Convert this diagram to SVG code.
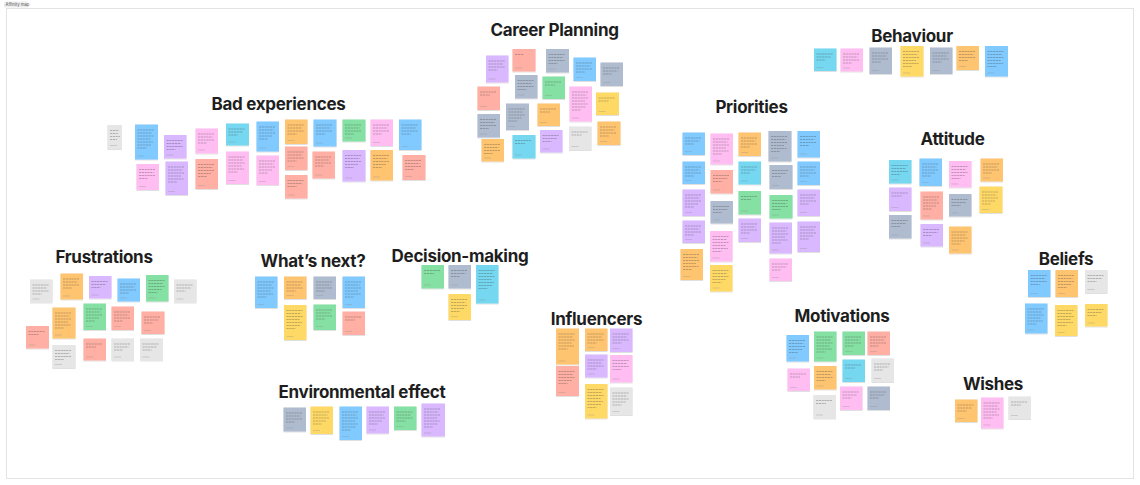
<svg xmlns="http://www.w3.org/2000/svg" xmlns:xlink="http://www.w3.org/1999/xlink" width="1140" height="485" viewBox="0 0 1140 485">
<style>
.t{font-family:Inter,"Liberation Sans",sans-serif;font-weight:700;font-size:17px;fill:#1e1e1e;text-anchor:middle;letter-spacing:-0.3px}
.s{filter:url(#sh)}
.gray{fill:#e6e6e6}.orange{fill:#ffc470}.green{fill:#85e0a3}.blue{fill:#80caff}.purple{fill:#d9b8ff}
.pink{fill:#ffbdf2}.salmon{fill:#ffafa3}.yellow{fill:#ffd966}.cyan{fill:#75d7f0}.slate{fill:#afbccf}
.ln{stroke:#3a3a3a;stroke-width:0.7;stroke-opacity:0.45;fill:none;stroke-dasharray:2.2 0.6}
.au{stroke:#8a8a8a;stroke-width:0.6;stroke-opacity:0.5;fill:none}
</style>
<defs>
<filter id="sh" x="-20%" y="-20%" width="140%" height="140%"><feDropShadow dx="0" dy="0.6" stdDeviation="0.5" flood-color="#000" flood-opacity="0.2"/></filter>
<path id="L1" class="ln" d="M2.5 5.5h9"/>
<path id="L2" class="ln" d="M2.5 5.5h16M2.5 8.5h10"/>
<path id="L3" class="ln" d="M2.5 5.5h16M2.5 8.5h14.5M2.5 11.5h9"/>
<path id="L4" class="ln" d="M2.5 5.5h16M2.5 8.5h14.5M2.5 11.5h16M2.5 14.5h9"/>
<path id="L5" class="ln" d="M2.5 5.5h16M2.5 8.5h14.5M2.5 11.5h16M2.5 14.5h13M2.5 17.5h9"/>
<path id="L6" class="ln" d="M2.5 5.5h16M2.5 8.5h14.5M2.5 11.5h16M2.5 14.5h13M2.5 17.5h15.5M2.5 20.5h9"/>
<path id="L7" class="ln" d="M2.5 5.5h16M2.5 8.5h14.5M2.5 11.5h16M2.5 14.5h13M2.5 17.5h15.5M2.5 20.5h14M2.5 23.5h9"/>
<path id="L8" class="ln" d="M2.5 5.5h16M2.5 8.5h14.5M2.5 11.5h16M2.5 14.5h13M2.5 17.5h15.5M2.5 20.5h14M2.5 23.5h16M2.5 26.5h9"/>
<path id="A" class="au" d="M2.5 0h7"/>
</defs>
<rect x="0" y="0" width="1140" height="485" fill="#ffffff"/>
<rect x="6.5" y="8.5" width="1127" height="470" fill="#ffffff" stroke="#e3e3e3" stroke-width="1"/>
<rect x="4" y="1.5" width="24" height="6" rx="1" fill="#eeeeee"/>
<text x="5.5" y="6" font-family="Inter,'Liberation Sans',sans-serif" font-size="4.2" fill="#555">Affinity map</text>

<g id="titles">
<text class="t" x="278.5" y="110">Bad experiences</text>
<text class="t" x="554.5" y="36">Career Planning</text>
<text class="t" x="912" y="41.5">Behaviour</text>
<text class="t" x="751.5" y="113">Priorities</text>
<text class="t" x="952.5" y="145">Attitude</text>
<text class="t" x="104" y="263">Frustrations</text>
<text class="t" x="313" y="267">What’s next?</text>
<text class="t" x="460" y="262">Decision-making</text>
<text class="t" x="362" y="398">Environmental effect</text>
<text class="t" x="596.5" y="325">Influencers</text>
<text class="t" x="842" y="321.5">Motivations</text>
<text class="t" x="1066" y="264.5">Beliefs</text>
<text class="t" x="993" y="390">Wishes</text>
</g>

<g id="connectors"></g>

<g id="bad-experiences">
<g id="be1"><rect class="s gray" x="107.5" y="125" width="14.5" height="24"/><path class="ln" d="M110 130.5h9M110 133.5h8M110 136.5h10M110 139.5h7"/><use href="#A" x="107.5" y="145.5"/></g>
<g id="be2"><rect class="s blue" x="135" y="124.5" width="23" height="35"/><use href="#L7" x="135" y="124.5"/><use href="#A" x="135" y="156"/></g>
<g id="be3"><rect class="s pink" x="136.5" y="164" width="22.5" height="26"/><use href="#L4" x="136.5" y="164"/><use href="#A" x="136.5" y="186.5"/></g>
<g id="be4"><rect class="s purple" x="164" y="135" width="22.5" height="23.5"/><use href="#L4" x="164" y="135"/><use href="#A" x="164" y="155"/></g>
<g id="be5"><rect class="s purple" x="165.5" y="161.5" width="22.5" height="33.5"/><use href="#L6" x="165.5" y="161.5"/><use href="#A" x="165.5" y="191.5"/></g>
<g id="be6"><rect class="s pink" x="195.5" y="128.5" width="22.5" height="25"/><use href="#L4" x="195.5" y="128.5"/><use href="#A" x="195.5" y="150"/></g>
<g id="be7"><rect class="s salmon" x="195.5" y="159" width="22.5" height="30"/><use href="#L5" x="195.5" y="159"/><use href="#A" x="195.5" y="185.5"/></g>
<g id="be8"><rect class="s cyan" x="226" y="123.5" width="23" height="22"/><use href="#L3" x="226" y="123.5"/><use href="#A" x="226" y="142"/></g>
<g id="be9"><rect class="s pink" x="226" y="151.5" width="23" height="32.5"/><use href="#L6" x="226" y="151.5"/><use href="#A" x="226" y="180.5"/></g>
<g id="be10"><rect class="s blue" x="256.5" y="121.5" width="22.5" height="30"/><use href="#L5" x="256.5" y="121.5"/><use href="#A" x="256.5" y="148"/></g>
<g id="be11"><rect class="s pink" x="256.5" y="155.5" width="22.5" height="29.5"/><use href="#L5" x="256.5" y="155.5"/><use href="#A" x="256.5" y="181.5"/></g>
<g id="be12"><rect class="s orange" x="285" y="119.5" width="22.5" height="24.5"/><use href="#L4" x="285" y="119.5"/><use href="#A" x="285" y="140.5"/></g>
<g id="be13"><rect class="s salmon" x="285" y="146.5" width="22.5" height="23.5"/><use href="#L4" x="285" y="146.5"/><use href="#A" x="285" y="166.5"/></g>
<g id="be14"><rect class="s salmon" x="285" y="175" width="22.5" height="23.5"/><use href="#L3" x="285" y="175"/><use href="#A" x="285" y="195"/></g>
<g id="be15"><rect class="s blue" x="313.5" y="119.5" width="23" height="27"/><use href="#L4" x="313.5" y="119.5"/><use href="#A" x="313.5" y="143"/></g>
<g id="be16"><rect class="s salmon" x="312.5" y="151.5" width="22.5" height="27"/><use href="#L4" x="312.5" y="151.5"/><use href="#A" x="312.5" y="175"/></g>
<g id="be17"><rect class="s green" x="342.5" y="119.5" width="23" height="22"/><use href="#L4" x="342.5" y="119.5"/><use href="#A" x="342.5" y="138"/></g>
<g id="be18"><rect class="s purple" x="342.5" y="150" width="23" height="31.5"/><use href="#L5" x="342.5" y="150"/><use href="#A" x="342.5" y="178"/></g>
<g id="be19"><rect class="s pink" x="370.5" y="119.5" width="22.5" height="26.5"/><use href="#L4" x="370.5" y="119.5"/><use href="#A" x="370.5" y="142.5"/></g>
<g id="be20"><rect class="s orange" x="370.5" y="150" width="22.5" height="30.5"/><use href="#L5" x="370.5" y="150"/><use href="#A" x="370.5" y="177"/></g>
<g id="be21"><rect class="s blue" x="399" y="119.5" width="22.5" height="30.5"/><use href="#L4" x="399" y="119.5"/><use href="#A" x="399" y="146.5"/></g>
<g id="be22"><rect class="s salmon" x="402.5" y="155" width="23" height="25"/><use href="#L4" x="402.5" y="155"/><use href="#A" x="402.5" y="176.5"/></g>
</g>

<g id="career-planning">
<g id="cp1"><rect class="s purple" x="486" y="55.5" width="22.5" height="27"/><use href="#L4" x="486" y="55.5"/><use href="#A" x="486" y="79"/></g>
<g id="cp2"><rect class="s salmon" x="512.5" y="49" width="23" height="22.5"/><use href="#L1" x="512.5" y="49"/><use href="#A" x="512.5" y="68"/></g>
<g id="cp3"><rect class="s slate" x="546" y="49" width="23" height="23.5"/><use href="#L4" x="546" y="49"/><use href="#A" x="546" y="69"/></g>
<g id="cp4"><rect class="s blue" x="573.5" y="57.5" width="22.5" height="23.5"/><use href="#L4" x="573.5" y="57.5"/><use href="#A" x="573.5" y="77.5"/></g>
<g id="cp5"><rect class="s slate" x="600.5" y="62.5" width="22.5" height="23.5"/><use href="#L3" x="600.5" y="62.5"/><use href="#A" x="600.5" y="82.5"/></g>
<g id="cp6"><rect class="s slate" x="515" y="75" width="22.5" height="23.5"/><use href="#L4" x="515" y="75"/><use href="#A" x="515" y="95"/></g>
<g id="cp7"><rect class="s green" x="542.5" y="76.5" width="22.5" height="22.5"/><use href="#L2" x="542.5" y="76.5"/><use href="#A" x="542.5" y="95.5"/></g>
<g id="cp8"><rect class="s salmon" x="477.5" y="86.5" width="22.5" height="23.5"/><use href="#L2" x="477.5" y="86.5"/><use href="#A" x="477.5" y="106.5"/></g>
<g id="cp9"><rect class="s pink" x="569.5" y="86.5" width="22.5" height="35"/><use href="#L7" x="569.5" y="86.5"/><use href="#A" x="569.5" y="118"/></g>
<g id="cp10"><rect class="s yellow" x="596" y="92.5" width="23" height="22.5"/><use href="#L2" x="596" y="92.5"/><use href="#A" x="596" y="111.5"/></g>
<g id="cp11"><rect class="s slate" x="506" y="103.5" width="23" height="26.5"/><use href="#L5" x="506" y="103.5"/><use href="#A" x="506" y="126.5"/></g>
<g id="cp12"><rect class="s orange" x="537.5" y="103.5" width="22.5" height="22.5"/><use href="#L2" x="537.5" y="103.5"/><use href="#A" x="537.5" y="122.5"/></g>
<g id="cp13"><rect class="s slate" x="477.5" y="114" width="22.5" height="23.5"/><use href="#L4" x="477.5" y="114"/><use href="#A" x="477.5" y="134"/></g>
<g id="cp14"><rect class="s orange" x="597.5" y="121.5" width="23" height="23.5"/><use href="#L4" x="597.5" y="121.5"/><use href="#A" x="597.5" y="141.5"/></g>
<g id="cp15"><rect class="s cyan" x="512.5" y="135" width="23" height="23.5"/><use href="#L2" x="512.5" y="135"/><use href="#A" x="512.5" y="155"/></g>
<g id="cp16"><rect class="s purple" x="540" y="130" width="22.5" height="22.5"/><use href="#L3" x="540" y="130"/><use href="#A" x="540" y="149"/></g>
<g id="cp17"><rect class="s gray" x="569" y="126.5" width="22.5" height="23.5"/><use href="#L2" x="569" y="126.5"/><use href="#A" x="569" y="146.5"/></g>
<g id="cp18"><rect class="s orange" x="481.5" y="139" width="22.5" height="22.5"/><use href="#L4" x="481.5" y="139"/><use href="#A" x="481.5" y="158"/></g>
</g>

<g id="frustrations">
<g id="fr1"><rect class="s gray" x="30" y="279.5" width="22.5" height="23"/><use href="#L4" x="30" y="279.5"/><use href="#A" x="30" y="299"/></g>
<g id="fr2"><rect class="s orange" x="60.5" y="273.5" width="22.5" height="26"/><use href="#L4" x="60.5" y="273.5"/><use href="#A" x="60.5" y="296"/></g>
<g id="fr3"><rect class="s purple" x="89" y="276" width="22.5" height="22.5"/><use href="#L3" x="89" y="276"/><use href="#A" x="89" y="295"/></g>
<g id="fr4"><rect class="s blue" x="117.5" y="278.5" width="22.5" height="23"/><use href="#L4" x="117.5" y="278.5"/><use href="#A" x="117.5" y="298"/></g>
<g id="fr5"><rect class="s green" x="146" y="275" width="22.5" height="26.5"/><use href="#L5" x="146" y="275"/><use href="#A" x="146" y="298"/></g>
<g id="fr6"><rect class="s gray" x="174" y="279.5" width="22.5" height="23"/><use href="#L3" x="174" y="279.5"/><use href="#A" x="174" y="299"/></g>
<g id="fr7"><rect class="s orange" x="52.5" y="307.5" width="23" height="31"/><use href="#L6" x="52.5" y="307.5"/><use href="#A" x="52.5" y="335"/></g>
<g id="fr8"><rect class="s green" x="83.5" y="303.5" width="22.5" height="26.5"/><use href="#L5" x="83.5" y="303.5"/><use href="#A" x="83.5" y="326.5"/></g>
<g id="fr9"><rect class="s salmon" x="111.5" y="306.5" width="22.5" height="23.5"/><use href="#L4" x="111.5" y="306.5"/><use href="#A" x="111.5" y="326.5"/></g>
<g id="fr10"><rect class="s salmon" x="141.5" y="311.5" width="23" height="22.5"/><use href="#L3" x="141.5" y="311.5"/><use href="#A" x="141.5" y="330.5"/></g>
<g id="fr11"><rect class="s salmon" x="26" y="326" width="23" height="22.5"/><use href="#L2" x="26" y="326"/><use href="#A" x="26" y="345"/></g>
<g id="fr12"><rect class="s gray" x="52.5" y="345" width="23" height="23"/><use href="#L4" x="52.5" y="345"/><use href="#A" x="52.5" y="364.5"/></g>
<g id="fr13"><rect class="s salmon" x="83.5" y="338.5" width="22.5" height="22"/><use href="#L2" x="83.5" y="338.5"/><use href="#A" x="83.5" y="357"/></g>
<g id="fr14"><rect class="s gray" x="111.5" y="338.5" width="22.5" height="22"/><use href="#L3" x="111.5" y="338.5"/><use href="#A" x="111.5" y="357"/></g>
<g id="fr15"><rect class="s gray" x="140" y="338.5" width="23" height="22"/><use href="#L3" x="140" y="338.5"/><use href="#A" x="140" y="357"/></g>
</g>

<g id="whats-next">
<g id="wn1"><rect class="s blue" x="255" y="276.5" width="22.5" height="31.5"/><use href="#L6" x="255" y="276.5"/><use href="#A" x="255" y="304.5"/></g>
<g id="wn2"><rect class="s orange" x="284" y="276.5" width="22.5" height="22.5"/><use href="#L4" x="284" y="276.5"/><use href="#A" x="284" y="295.5"/></g>
<g id="wn3"><rect class="s slate" x="313.5" y="276.5" width="22.5" height="22.5"/><use href="#L4" x="313.5" y="276.5"/><use href="#A" x="313.5" y="295.5"/></g>
<g id="wn4"><rect class="s blue" x="342.5" y="276.5" width="22.5" height="31.5"/><use href="#L6" x="342.5" y="276.5"/><use href="#A" x="342.5" y="304.5"/></g>
<g id="wn5"><rect class="s yellow" x="284" y="305" width="22.5" height="35"/><use href="#L7" x="284" y="305"/><use href="#A" x="284" y="336.5"/></g>
<g id="wn6"><rect class="s green" x="313.5" y="304.5" width="22.5" height="25.5"/><use href="#L4" x="313.5" y="304.5"/><use href="#A" x="313.5" y="326.5"/></g>
<g id="wn7"><rect class="s salmon" x="342.5" y="311.5" width="22.5" height="23.5"/><use href="#L2" x="342.5" y="311.5"/><use href="#A" x="342.5" y="331.5"/></g>
</g>

<g id="decision-making">
<g id="dm1"><rect class="s green" x="421.5" y="265" width="22.5" height="23.5"/><use href="#L2" x="421.5" y="265"/><use href="#A" x="421.5" y="285"/></g>
<g id="dm2"><rect class="s slate" x="448.5" y="265" width="22.5" height="23.5"/><use href="#L3" x="448.5" y="265"/><use href="#A" x="448.5" y="285"/></g>
<g id="dm3"><rect class="s cyan" x="476" y="265" width="22.5" height="38.5"/><use href="#L7" x="476" y="265"/><use href="#A" x="476" y="300"/></g>
<g id="dm4"><rect class="s yellow" x="448.5" y="294" width="22.5" height="26"/><use href="#L5" x="448.5" y="294"/><use href="#A" x="448.5" y="316.5"/></g>
</g>

<g id="priorities">
<g id="pr1"><rect class="s blue" x="682.5" y="132.5" width="22.5" height="22.5"/><use href="#L3" x="682.5" y="132.5"/><use href="#A" x="682.5" y="151.5"/></g>
<g id="pr2"><rect class="s blue" x="682.5" y="161.5" width="22.5" height="22.5"/><use href="#L4" x="682.5" y="161.5"/><use href="#A" x="682.5" y="180.5"/></g>
<g id="pr3"><rect class="s purple" x="682.5" y="189.5" width="22.5" height="26.5"/><use href="#L5" x="682.5" y="189.5"/><use href="#A" x="682.5" y="212.5"/></g>
<g id="pr4"><rect class="s purple" x="682.5" y="220.5" width="22.5" height="22.5"/><use href="#L4" x="682.5" y="220.5"/><use href="#A" x="682.5" y="239.5"/></g>
<g id="pr5"><rect class="s orange" x="680.5" y="249" width="22.5" height="31"/><use href="#L6" x="680.5" y="249"/><use href="#A" x="680.5" y="276.5"/></g>
<g id="pr6"><rect class="s pink" x="710.5" y="133.5" width="22.5" height="31"/><use href="#L6" x="710.5" y="133.5"/><use href="#A" x="710.5" y="161"/></g>
<g id="pr7"><rect class="s salmon" x="710.5" y="170" width="22.5" height="23.5"/><use href="#L3" x="710.5" y="170"/><use href="#A" x="710.5" y="190"/></g>
<g id="pr8"><rect class="s slate" x="710.5" y="201" width="22.5" height="22.5"/><use href="#L3" x="710.5" y="201"/><use href="#A" x="710.5" y="220"/></g>
<g id="pr9"><rect class="s pink" x="710" y="231" width="22.5" height="30.5"/><use href="#L6" x="710" y="231"/><use href="#A" x="710" y="258"/></g>
<g id="pr10"><rect class="s yellow" x="710" y="265" width="22.5" height="26.5"/><use href="#L5" x="710" y="265"/><use href="#A" x="710" y="288"/></g>
<g id="pr11"><rect class="s orange" x="738.5" y="132.5" width="22.5" height="23.5"/><use href="#L4" x="738.5" y="132.5"/><use href="#A" x="738.5" y="152.5"/></g>
<g id="pr12"><rect class="s cyan" x="738.5" y="161.5" width="22.5" height="23"/><use href="#L3" x="738.5" y="161.5"/><use href="#A" x="738.5" y="181"/></g>
<g id="pr13"><rect class="s green" x="738.5" y="191" width="22.5" height="23.5"/><use href="#L2" x="738.5" y="191"/><use href="#A" x="738.5" y="211"/></g>
<g id="pr14"><rect class="s purple" x="738.5" y="218.5" width="22.5" height="23.5"/><use href="#L4" x="738.5" y="218.5"/><use href="#A" x="738.5" y="238.5"/></g>
<g id="pr15"><rect class="s slate" x="768.5" y="131" width="23" height="30.5"/><use href="#L6" x="768.5" y="131"/><use href="#A" x="768.5" y="158"/></g>
<g id="pr16"><rect class="s slate" x="769.5" y="165" width="23" height="24"/><use href="#L3" x="769.5" y="165"/><use href="#A" x="769.5" y="185.5"/></g>
<g id="pr17"><rect class="s green" x="769.5" y="195" width="23" height="23.5"/><use href="#L4" x="769.5" y="195"/><use href="#A" x="769.5" y="215"/></g>
<g id="pr18"><rect class="s purple" x="769.5" y="222.5" width="22.5" height="31"/><use href="#L6" x="769.5" y="222.5"/><use href="#A" x="769.5" y="250"/></g>
<g id="pr19"><rect class="s pink" x="769.5" y="258.5" width="22.5" height="22.5"/><use href="#L3" x="769.5" y="258.5"/><use href="#A" x="769.5" y="277.5"/></g>
<g id="pr20"><rect class="s blue" x="797.5" y="131" width="22.5" height="26.5"/><use href="#L4" x="797.5" y="131"/><use href="#A" x="797.5" y="154"/></g>
<g id="pr21"><rect class="s blue" x="797.5" y="161.5" width="22.5" height="23.5"/><use href="#L4" x="797.5" y="161.5"/><use href="#A" x="797.5" y="181.5"/></g>
<g id="pr22"><rect class="s purple" x="797.5" y="189.5" width="22.5" height="26.5"/><use href="#L4" x="797.5" y="189.5"/><use href="#A" x="797.5" y="212.5"/></g>
<g id="pr23"><rect class="s purple" x="797.5" y="221.5" width="22.5" height="30.5"/><use href="#L5" x="797.5" y="221.5"/><use href="#A" x="797.5" y="248.5"/></g>
</g>

<g id="behaviour">
<g id="bh1"><rect class="s cyan" x="814" y="48.5" width="22.5" height="22.5"/><use href="#L3" x="814" y="48.5"/><use href="#A" x="814" y="67.5"/></g>
<g id="bh2"><rect class="s pink" x="840.5" y="48.5" width="22.5" height="23"/><use href="#L4" x="840.5" y="48.5"/><use href="#A" x="840.5" y="68"/></g>
<g id="bh3"><rect class="s slate" x="869.5" y="47.5" width="22.5" height="26.5"/><use href="#L4" x="869.5" y="47.5"/><use href="#A" x="869.5" y="70.5"/></g>
<g id="bh4"><rect class="s yellow" x="900.5" y="46" width="23" height="30.5"/><use href="#L6" x="900.5" y="46"/><use href="#A" x="900.5" y="73"/></g>
<g id="bh5"><rect class="s slate" x="930" y="47.5" width="22.5" height="26.5"/><use href="#L4" x="930" y="47.5"/><use href="#A" x="930" y="70.5"/></g>
<g id="bh6"><rect class="s orange" x="956.5" y="46" width="22.5" height="24"/><use href="#L4" x="956.5" y="46"/><use href="#A" x="956.5" y="66.5"/></g>
<g id="bh7"><rect class="s blue" x="985" y="46" width="23" height="30.5"/><use href="#L6" x="985" y="46"/><use href="#A" x="985" y="73"/></g>
</g>

<g id="attitude">
<g id="at1"><rect class="s cyan" x="889" y="160" width="22.5" height="23.5"/><use href="#L4" x="889" y="160"/><use href="#A" x="889" y="180"/></g>
<g id="at2"><rect class="s blue" x="919.5" y="158.5" width="22.5" height="27.5"/><use href="#L5" x="919.5" y="158.5"/><use href="#A" x="919.5" y="182.5"/></g>
<g id="at3"><rect class="s pink" x="949" y="161" width="22.5" height="26.5"/><use href="#L5" x="949" y="161"/><use href="#A" x="949" y="184"/></g>
<g id="at4"><rect class="s orange" x="980.5" y="158.5" width="22.5" height="23"/><use href="#L4" x="980.5" y="158.5"/><use href="#A" x="980.5" y="178"/></g>
<g id="at5"><rect class="s purple" x="889" y="187.5" width="22.5" height="23.5"/><use href="#L2" x="889" y="187.5"/><use href="#A" x="889" y="207.5"/></g>
<g id="at6"><rect class="s salmon" x="920.5" y="191.5" width="22.5" height="28"/><use href="#L5" x="920.5" y="191.5"/><use href="#A" x="920.5" y="216"/></g>
<g id="at7"><rect class="s slate" x="949" y="194" width="22.5" height="22.5"/><use href="#L3" x="949" y="194"/><use href="#A" x="949" y="213"/></g>
<g id="at8"><rect class="s yellow" x="979.5" y="186.5" width="23" height="26.5"/><use href="#L5" x="979.5" y="186.5"/><use href="#A" x="979.5" y="209.5"/></g>
<g id="at9"><rect class="s slate" x="889" y="215" width="22.5" height="23.5"/><use href="#L3" x="889" y="215"/><use href="#A" x="889" y="235"/></g>
<g id="at10"><rect class="s purple" x="920.5" y="224" width="22.5" height="22.5"/><use href="#L3" x="920.5" y="224"/><use href="#A" x="920.5" y="243"/></g>
<g id="at11"><rect class="s orange" x="949" y="226.5" width="22.5" height="27"/><use href="#L5" x="949" y="226.5"/><use href="#A" x="949" y="250"/></g>
</g>

<g id="environmental-effect">
<g id="ee1"><rect class="s slate" x="283.5" y="407.5" width="22.5" height="24"/><use href="#L4" x="283.5" y="407.5"/><use href="#A" x="283.5" y="428"/></g>
<g id="ee2"><rect class="s yellow" x="310.5" y="406.5" width="22.5" height="27.5"/><use href="#L5" x="310.5" y="406.5"/><use href="#A" x="310.5" y="430.5"/></g>
<g id="ee3"><rect class="s blue" x="339.5" y="406.5" width="22.5" height="33.5"/><use href="#L7" x="339.5" y="406.5"/><use href="#A" x="339.5" y="436.5"/></g>
<g id="ee4"><rect class="s purple" x="366.5" y="406.5" width="22.5" height="27"/><use href="#L5" x="366.5" y="406.5"/><use href="#A" x="366.5" y="430"/></g>
<g id="ee5"><rect class="s green" x="394" y="406.5" width="22.5" height="23.5"/><use href="#L4" x="394" y="406.5"/><use href="#A" x="394" y="426.5"/></g>
<g id="ee6"><rect class="s purple" x="421.5" y="403.5" width="23.5" height="33"/><use href="#L7" x="421.5" y="403.5"/><use href="#A" x="421.5" y="433"/></g>
</g>

<g id="influencers">
<g id="in1"><rect class="s orange" x="556" y="328.5" width="23" height="36"/><use href="#L6" x="556" y="328.5"/><use href="#A" x="556" y="361"/></g>
<g id="in2"><rect class="s orange" x="585" y="328.5" width="22.5" height="22.5"/><use href="#L4" x="585" y="328.5"/><use href="#A" x="585" y="347.5"/></g>
<g id="in3"><rect class="s purple" x="610" y="328.5" width="22.5" height="23.5"/><use href="#L4" x="610" y="328.5"/><use href="#A" x="610" y="348.5"/></g>
<g id="in4"><rect class="s salmon" x="556" y="366" width="23" height="30"/><use href="#L5" x="556" y="366"/><use href="#A" x="556" y="392.5"/></g>
<g id="in5"><rect class="s purple" x="585" y="354.5" width="22.5" height="23"/><use href="#L4" x="585" y="354.5"/><use href="#A" x="585" y="374"/></g>
<g id="in6"><rect class="s pink" x="610" y="355" width="22.5" height="27.5"/><use href="#L4" x="610" y="355"/><use href="#A" x="610" y="379"/></g>
<g id="in7"><rect class="s yellow" x="585" y="384" width="22.5" height="34.5"/><use href="#L7" x="585" y="384"/><use href="#A" x="585" y="415"/></g>
<g id="in8"><rect class="s gray" x="610" y="387.5" width="22.5" height="27.5"/><use href="#L5" x="610" y="387.5"/><use href="#A" x="610" y="411.5"/></g>
</g>

<g id="motivations">
<g id="mo1"><rect class="s blue" x="786.5" y="335" width="22.5" height="26.5"/><use href="#L5" x="786.5" y="335"/><use href="#A" x="786.5" y="358"/></g>
<g id="mo2"><rect class="s green" x="814" y="331.5" width="22.5" height="30"/><use href="#L6" x="814" y="331.5"/><use href="#A" x="814" y="358"/></g>
<g id="mo3"><rect class="s green" x="842.5" y="331.5" width="22.5" height="23.5"/><use href="#L4" x="842.5" y="331.5"/><use href="#A" x="842.5" y="351.5"/></g>
<g id="mo4"><rect class="s salmon" x="867.5" y="331.5" width="22.5" height="23.5"/><use href="#L4" x="867.5" y="331.5"/><use href="#A" x="867.5" y="351.5"/></g>
<g id="mo5"><rect class="s pink" x="787.5" y="368.5" width="22.5" height="22.5"/><use href="#L2" x="787.5" y="368.5"/><use href="#A" x="787.5" y="387.5"/></g>
<g id="mo6"><rect class="s orange" x="814" y="366" width="22.5" height="23.5"/><use href="#L4" x="814" y="366"/><use href="#A" x="814" y="386"/></g>
<g id="mo7"><rect class="s cyan" x="842.5" y="359.5" width="22.5" height="22.5"/><use href="#L2" x="842.5" y="359.5"/><use href="#A" x="842.5" y="378.5"/></g>
<g id="mo8"><rect class="s gray" x="871.5" y="358.5" width="22.5" height="23.5"/><use href="#L3" x="871.5" y="358.5"/><use href="#A" x="871.5" y="378.5"/></g>
<g id="mo9"><rect class="s gray" x="813.5" y="395" width="22.5" height="23.5"/><use href="#L2" x="813.5" y="395"/><use href="#A" x="813.5" y="415"/></g>
<g id="mo10"><rect class="s pink" x="840" y="386.5" width="22.5" height="23.5"/><use href="#L3" x="840" y="386.5"/><use href="#A" x="840" y="406.5"/></g>
<g id="mo11"><rect class="s slate" x="867.5" y="386.5" width="22.5" height="23.5"/><use href="#L3" x="867.5" y="386.5"/><use href="#A" x="867.5" y="406.5"/></g>
</g>

<g id="beliefs">
<g id="bl1"><rect class="s blue" x="1028" y="270" width="22.5" height="27"/><use href="#L4" x="1028" y="270"/><use href="#A" x="1028" y="293.5"/></g>
<g id="bl2"><rect class="s orange" x="1055.5" y="270" width="22.5" height="27"/><use href="#L5" x="1055.5" y="270"/><use href="#A" x="1055.5" y="293.5"/></g>
<g id="bl3"><rect class="s gray" x="1085" y="270" width="22.5" height="23"/><use href="#L3" x="1085" y="270"/><use href="#A" x="1085" y="289.5"/></g>
<g id="bl4"><rect class="s blue" x="1025" y="303.5" width="22.5" height="30"/><use href="#L6" x="1025" y="303.5"/><use href="#A" x="1025" y="330"/></g>
<g id="bl5"><rect class="s yellow" x="1055" y="305" width="22.5" height="31"/><use href="#L6" x="1055" y="305"/><use href="#A" x="1055" y="332.5"/></g>
<g id="bl6"><rect class="s yellow" x="1085" y="304" width="22.5" height="22.5"/><use href="#L3" x="1085" y="304"/><use href="#A" x="1085" y="323"/></g>
</g>

<g id="wishes">
<g id="wi1"><rect class="s orange" x="955" y="399.5" width="22.5" height="22.5"/><use href="#L3" x="955" y="399.5"/><use href="#A" x="955" y="418.5"/></g>
<g id="wi2"><rect class="s pink" x="981" y="397.5" width="22.5" height="31"/><use href="#L6" x="981" y="397.5"/><use href="#A" x="981" y="425"/></g>
<g id="wi3"><rect class="s gray" x="1008.5" y="396.5" width="22.5" height="22.5"/><use href="#L2" x="1008.5" y="396.5"/><use href="#A" x="1008.5" y="415.5"/></g>
</g>
</svg>
